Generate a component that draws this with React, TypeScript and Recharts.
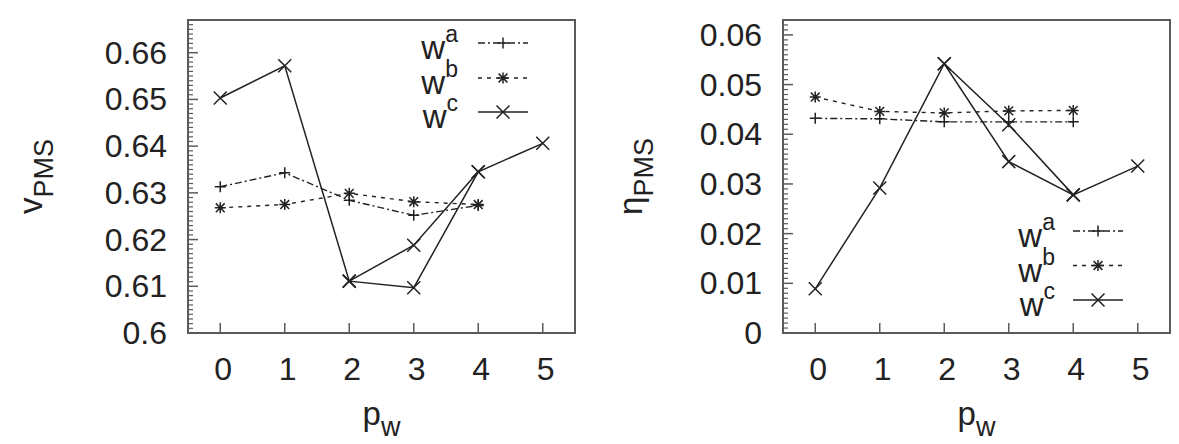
import React from 'react';
import { LineChart, Line, XAxis, YAxis, Legend, ReferenceArea } from 'recharts';

// ---------- data ----------
const pwTicks = [0, 1, 2, 3, 4, 5];
const pwTickLabels = ['0', '1', '2', '3', '4', '5'];
const pwAB = [0, 1, 2, 3, 4];
const pwC = [0, 1, 2, 3, 4, 5];
const pwCBranch = [2, 3, 4];

// left panel: v_PMS
const vPmsA = [0.6313, 0.6343, 0.6284, 0.6252, 0.6273];
const vPmsB = [0.6268, 0.6275, 0.6299, 0.6281, 0.6275];
const vPmsC = [0.6503, 0.6572, 0.6111, 0.6097, 0.6345, 0.6406];
const vPmsCBranch = [0.6111, 0.6188, 0.6345];
const vYTicks = [0.6, 0.61, 0.62, 0.63, 0.64, 0.65, 0.66];
const vYTickLabels = ['0.6', '0.61', '0.62', '0.63', '0.64', '0.65', '0.66'];
const vYDomain: [number, number] = [0.6, 0.667];

// right panel: eta_PMS
const etaPmsA = [0.0432, 0.0431, 0.0425, 0.0425, 0.0425];
const etaPmsB = [0.0475, 0.0446, 0.0443, 0.0447, 0.0448];
const etaPmsC = [0.0089, 0.0292, 0.0542, 0.0345, 0.0278, 0.0336];
const etaPmsCBranch = [0.0542, 0.0419, 0.0278];
const etaYTicks = [0, 0.01, 0.02, 0.03, 0.04, 0.05, 0.06];
const etaYTickLabels = ['0', '0.01', '0.02', '0.03', '0.04', '0.05', '0.06'];
const etaYDomain: [number, number] = [0, 0.063];

const legendSup = ['a', 'b', 'c'];

// ---------- styling ----------
const FONT = '"Liberation Sans", Arial, Helvetica, sans-serif';
const INK = '#222222';
const FRAME = '#5a5a5a';
const MAIN_FS = 33;
const TICK_FS = 32;
const SUB_FS = 27;

const toPts = (xs: number[], ys: number[]) => xs.map((x, i) => ({ x, y: ys[i] }));

const plusShape = (cx: number, cy: number, r: number) =>
  `M${cx - r},${cy}H${cx + r}M${cx},${cy - r}V${cy + r}`;
const crossShape = (cx: number, cy: number, r: number) =>
  `M${cx - r},${cy - r}L${cx + r},${cy + r}M${cx - r},${cy + r}L${cx + r},${cy - r}`;
const starShape = (cx: number, cy: number, r: number) => plusShape(cx, cy, r) + crossShape(cx, cy, r * 0.8);

const markerPath: Record<string, (cx: number, cy: number, r: number) => string> = {
  a: plusShape,
  b: starShape,
  c: crossShape,
};
const markerSize: Record<string, number> = { a: 5.5, b: 5.5, c: 6.5 };
const dashes: Record<string, string | undefined> = { a: '7 3 2 3', b: '4 5', c: undefined };

const makeDot = (kind: string) => (props: any) => {
  const { cx, cy, index } = props;
  if (cx == null || cy == null) return <g key={`${kind}-${index}`} />;
  return (
    <path
      key={`${kind}-${index}`}
      d={markerPath[kind](cx, cy, markerSize[kind])}
      stroke={INK}
      strokeWidth={1.5}
      fill="none"
    />
  );
};

const buildMinor = (domain: [number, number], step: number) => {
  const n = Math.floor((domain[1] - domain[0]) / step + 1e-6);
  const out: number[] = [];
  for (let i = 0; i <= n; i++) out.push(Number((domain[0] + i * step).toFixed(4)));
  return out;
};

const XTick = (props: any) => {
  const { x, y, payload } = props;
  const idx = pwTicks.indexOf(payload.value);
  return (
    <g>
      <line x1={x} x2={x} y1={y} y2={y - 10} stroke={FRAME} strokeWidth={1.5} />
      <text x={x + 3} y={y + 47} textAnchor="middle" fontSize={TICK_FS} fontFamily={FONT} fill={INK}>
        {pwTickLabels[idx]}
      </text>
    </g>
  );
};

const YTick = (props: any) => {
  const { x, y, payload, majors, labels } = props;
  const v = payload.value;
  const idx = majors.findIndex((m: number) => Math.abs(m - v) < 1e-7);
  if (idx >= 0) {
    return (
      <g>
        <line x1={x} x2={x + 10} y1={y} y2={y} stroke={FRAME} strokeWidth={1.5} />
        <text x={x - 21} y={y} dy={11} textAnchor="end" fontSize={TICK_FS} fontFamily={FONT} fill={INK}>
          {labels[idx]}
        </text>
      </g>
    );
  }
  return <line x1={x} x2={x + 5} y1={y} y2={y} stroke={FRAME} strokeWidth={1.2} />;
};

const XLabel = (props: any) => {
  const vb = props.viewBox || { x: 188, y: 333, width: 387, height: 111 };
  const cx = vb.x + vb.width / 2;
  const by = vb.y + 92;
  return (
    <text x={cx} y={by} textAnchor="middle" fontSize={MAIN_FS} fontFamily={FONT} fill={INK}>
      p<tspan dy={11} fontSize={SUB_FS}>w</tspan>
    </text>
  );
};

const YLabel = (props: any) => {
  const vb = props.viewBox || { x: 0, y: 20, width: 188, height: 313 };
  const cx = (vb.x || 0) + props.offsetX;
  const cy = vb.y + vb.height / 2;
  return (
    <text
      x={cx}
      y={cy}
      transform={`rotate(-90 ${cx} ${cy})`}
      textAnchor="middle"
      fontSize={MAIN_FS}
      fontFamily={FONT}
      fill={INK}
    >
      {props.main}
      <tspan dy={11} fontSize={SUB_FS}>PMS</tspan>
    </text>
  );
};

const LegendBox = (props: any) => {
  const { rows, textEnd, x1, x2 } = props;
  const kinds = ['a', 'b', 'c'];
  return (
    <svg width={140} height={115} style={{ display: 'block', overflow: 'visible' }}>
      {kinds.map((k, i) => {
        const ry = rows[i];
        const mx = (x1 + x2) / 2;
        return (
          <g key={k}>
            <text x={textEnd} y={ry + 16} textAnchor="end" fontSize={MAIN_FS} fontFamily={FONT} fill={INK}>
              w<tspan dy={-17} fontSize={23}>{legendSup[i]}</tspan>
            </text>
            <line x1={x1} x2={x2} y1={ry} y2={ry} stroke={INK} strokeWidth={1.4} strokeDasharray={dashes[k]} />
            <path d={markerPath[k](mx, ry, markerSize[k])} stroke={INK} strokeWidth={1.5} fill="none" />
          </g>
        );
      })}
    </svg>
  );
};

type PanelCfg = {
  yDomain: [number, number];
  majors: number[];
  labels: string[];
  a: number[];
  b: number[];
  c: number[];
  cBranch: number[];
  yMain: string;
  labelX: number;
  legendPos: { left: number; top: number };
  legendRows: number[];
  legendTextEnd: number;
  legendX1: number;
  legendX2: number;
};

function Panel({ cfg }: { cfg: PanelCfg }) {
  const ticks = buildMinor(cfg.yDomain, 0.001);
  return (
    <LineChart width={590} height={444} margin={{ top: 20, right: 15, bottom: 0, left: 0 }}>
      <XAxis
        type="number"
        dataKey="x"
        domain={[-0.5, 5.5]}
        ticks={pwTicks}
        interval={0}
        allowDataOverflow
        height={111}
        tickSize={0}
        tickMargin={0}
        tickLine={false}
        axisLine={false}
        tick={(p: any) => <XTick {...p} />}
        label={<XLabel />}
      />
      <YAxis
        type="number"
        domain={cfg.yDomain}
        ticks={ticks}
        interval={0}
        allowDataOverflow
        width={188}
        tickSize={0}
        tickMargin={0}
        tickLine={false}
        axisLine={false}
        tick={(p: any) => <YTick {...p} majors={cfg.majors} labels={cfg.labels} />}
        label={<YLabel main={cfg.yMain} offsetX={cfg.labelX} />}
      />
      <ReferenceArea
        x1={-0.5}
        x2={5.5}
        y1={cfg.yDomain[0]}
        y2={cfg.yDomain[1]}
        fill="none"
        fillOpacity={0}
        stroke={FRAME}
        strokeWidth={2}
        ifOverflow="visible"
      />
      <Line
        data={toPts(pwAB, cfg.a)}
        dataKey="y"
        name="wa"
        type="linear"
        stroke={INK}
        strokeWidth={1.4}
        strokeDasharray={dashes.a}
        dot={makeDot('a')}
        activeDot={false}
        isAnimationActive={false}
      />
      <Line
        data={toPts(pwAB, cfg.b)}
        dataKey="y"
        name="wb"
        type="linear"
        stroke={INK}
        strokeWidth={1.4}
        strokeDasharray={dashes.b}
        dot={makeDot('b')}
        activeDot={false}
        isAnimationActive={false}
      />
      <Line
        data={toPts(pwC, cfg.c)}
        dataKey="y"
        name="wc"
        type="linear"
        stroke={INK}
        strokeWidth={1.5}
        dot={makeDot('c')}
        activeDot={false}
        isAnimationActive={false}
      />
      <Line
        data={toPts(pwCBranch, cfg.cBranch)}
        dataKey="y"
        name="wc2"
        type="linear"
        stroke={INK}
        strokeWidth={1.5}
        dot={makeDot('c')}
        activeDot={false}
        legendType="none"
        isAnimationActive={false}
      />
      <Legend
        layout="horizontal"
        verticalAlign="middle"
        align="center"
        wrapperStyle={{ position: 'absolute', left: cfg.legendPos.left, top: cfg.legendPos.top, width: 140, height: 115 }}
        content={() => (
          <LegendBox rows={cfg.legendRows} textEnd={cfg.legendTextEnd} x1={cfg.legendX1} x2={cfg.legendX2} />
        )}
      />
    </LineChart>
  );
}

const leftCfg: PanelCfg = {
  yDomain: vYDomain,
  majors: vYTicks,
  labels: vYTickLabels,
  a: vPmsA,
  b: vPmsB,
  c: vPmsC,
  cBranch: vPmsCBranch,
  yMain: 'v',
  labelX: 42,
  legendPos: { left: 400, top: 20 },
  legendRows: [23, 58, 92],
  legendTextEnd: 58,
  legendX1: 78,
  legendX2: 128,
};

const rightCfg: PanelCfg = {
  yDomain: etaYDomain,
  majors: etaYTicks,
  labels: etaYTickLabels,
  a: etaPmsA,
  b: etaPmsB,
  c: etaPmsC,
  cBranch: etaPmsCBranch,
  yMain: 'η',
  labelX: 47,
  legendPos: { left: 405, top: 200 },
  legendRows: [31, 65.5, 100],
  legendTextEnd: 55,
  legendX1: 73,
  legendX2: 123,
};

export default function App() {
  return (
    <div
      style={{
        position: 'absolute',
        left: 0,
        top: 0,
        width: 1179,
        height: 444,
        background: '#fff',
        fontFamily: FONT,
        overflow: 'hidden',
      }}
    >
      <div style={{ position: 'absolute', left: 0, top: 0 }}>
        <Panel cfg={leftCfg} />
      </div>
      <div style={{ position: 'absolute', left: 595, top: 0 }}>
        <Panel cfg={rightCfg} />
      </div>
    </div>
  );
}
